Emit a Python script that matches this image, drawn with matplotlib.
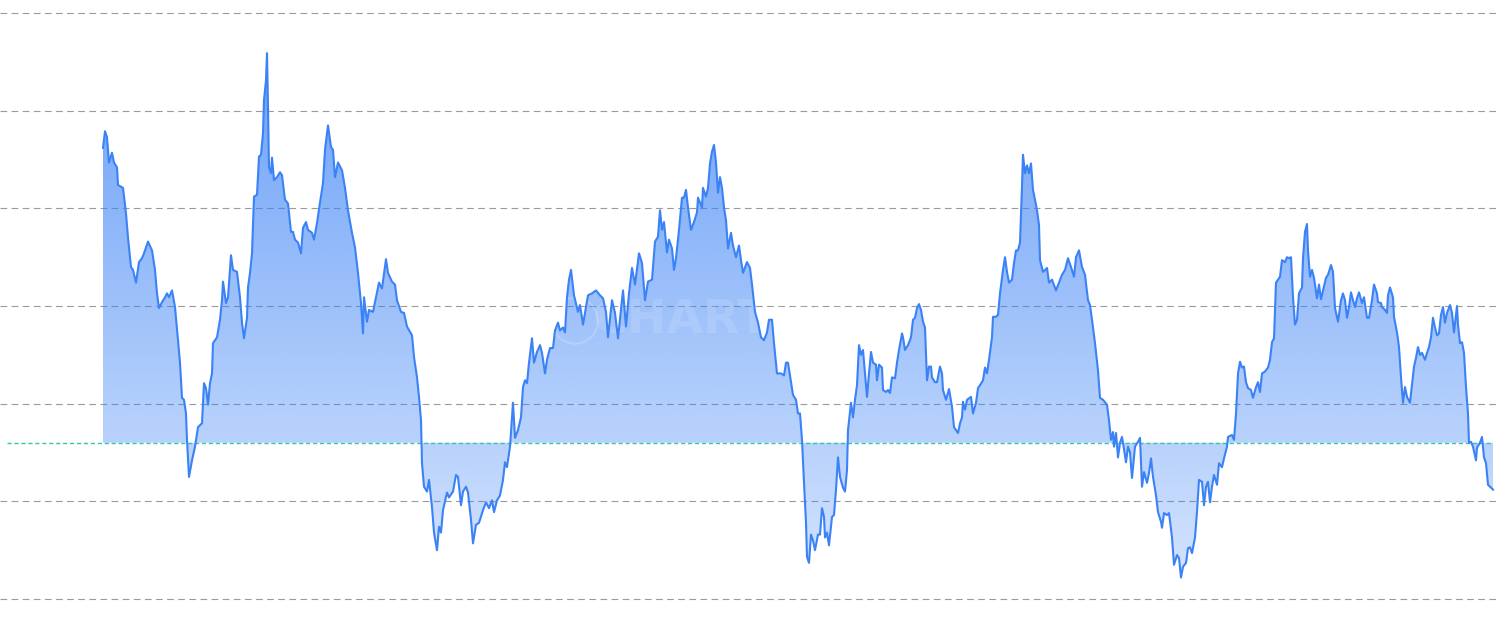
import numpy as np
import matplotlib.pyplot as plt

# --- datos (día desde el inicio, valor) ---
days = [0, 2, 4, 6, 9, 11, 14, 15, 20, 23, 25, 28, 30, 33, 36, 39, 41, 45, 49, 52,
        54, 56, 59, 62, 64, 66, 69, 72, 75, 77, 79, 81, 83, 84, 86, 89, 92, 95, 99, 101,
        103, 105, 107, 109, 110, 114, 117, 119, 120, 123, 125, 128, 130, 134, 137, 139, 141, 144, 145, 147,
        149, 151, 154, 156, 158, 160, 161, 163, 164, 165, 166, 168, 169, 171, 174, 177, 179, 182, 185, 188,
        190, 192, 195, 198, 200, 203, 205, 209, 211, 214, 217, 220, 222, 225, 228, 230, 232, 235, 239, 242,
        245, 249, 252, 255, 258, 260, 261, 264, 266, 270, 273, 276, 279, 283, 285, 289, 292, 294, 298, 301,
        304, 309, 311, 314, 316, 318, 319, 321, 324, 326, 329, 331, 334, 336, 338, 340, 344, 346, 350, 353,
        355, 358, 360, 363, 365, 368, 370, 373, 376, 380, 383, 386, 389, 391, 394, 397, 400, 402, 404, 407,
        410, 412, 415, 418, 420, 422, 424, 426, 429, 431, 434, 437, 439, 442, 444, 447, 450, 452, 455, 457,
        460, 462, 464, 466, 468, 471, 475, 477, 480, 485, 489, 493, 497, 500, 503, 505, 509, 512, 515, 518,
        520, 523, 526, 529, 532, 536, 539, 542, 545, 549, 552, 555, 557, 559, 561, 564, 566, 569, 571, 573,
        576, 579, 581, 583, 585, 588, 591, 594, 595, 599, 600, 603, 605, 607, 609, 611, 613, 615, 617, 619,
        621, 623, 625, 628, 630, 633, 636, 638, 640, 644, 647, 649, 652, 655, 658, 661, 664, 666, 669, 671,
        674, 678, 681, 683, 685, 687, 690, 693, 695, 697, 699, 701, 703, 704, 706, 708, 710, 712, 715, 717,
        719, 721, 722, 724, 726, 729, 731, 733, 735, 737, 740, 742, 744, 745, 748, 750, 752, 754, 756, 758,
        760, 762, 764, 766, 768, 770, 773, 774, 776, 779, 780, 783, 785, 787, 789, 792, 794, 796, 799, 800,
        802, 805, 808, 810, 812, 814, 816, 818, 820, 822, 824, 826, 828, 829, 832, 834, 837, 839, 840, 843,
        846, 849, 851, 853, 855, 857, 859, 860, 862, 864, 868, 870, 873, 875, 877, 880, 882, 884, 886, 889,
        890, 893, 895, 897, 900, 902, 904, 906, 909, 911, 913, 915, 917, 919, 920, 922, 924, 926, 928, 930,
        932, 934, 936, 937, 940, 944, 946, 949, 953, 956, 959, 962, 965, 968, 971, 973, 976, 979, 982, 985,
        987, 989, 992, 995, 997, 1000, 1004, 1006, 1008, 1010, 1011, 1013, 1015, 1017, 1019, 1020, 1023, 1025, 1027, 1029,
        1032, 1035, 1037, 1039, 1041, 1044, 1046, 1048, 1050, 1053, 1055, 1058, 1059, 1061, 1064, 1066, 1069, 1071, 1074, 1076,
        1078, 1080, 1083, 1085, 1087, 1089, 1092, 1094, 1096, 1099, 1101, 1103, 1105, 1107, 1109, 1111, 1114, 1116, 1119, 1121,
        1124, 1125, 1129, 1131, 1133, 1135, 1137, 1139, 1141, 1143, 1145, 1148, 1150, 1153, 1155, 1157, 1159, 1162, 1165, 1167,
        1169, 1171, 1173, 1175, 1177, 1179, 1182, 1184, 1186, 1188, 1190, 1192, 1194, 1196, 1199, 1200, 1202, 1204, 1205, 1207,
        1209, 1211, 1214, 1216, 1218, 1220, 1223, 1225, 1228, 1230, 1232, 1235, 1238, 1240, 1242, 1244, 1246, 1248, 1250, 1252,
        1254, 1256, 1259, 1261, 1264, 1266, 1269, 1271, 1274, 1275, 1278, 1279, 1282, 1284, 1285, 1287, 1290, 1291, 1294, 1296,
        1298, 1300, 1302, 1304, 1307, 1309, 1311, 1313, 1315, 1317, 1319, 1322, 1324, 1326, 1328, 1330, 1332, 1334, 1336, 1338,
        1340, 1342, 1344, 1347, 1349, 1351, 1354, 1355, 1357, 1359, 1361, 1363, 1365, 1366, 1368, 1370, 1373, 1374, 1377, 1379,
        1381, 1383, 1385, 1388, 1390]

values = [462, 479, 473, 447, 457, 447, 442, 424, 421, 395, 370, 340, 337, 324, 345, 349, 354, 366, 357, 337,
          313, 298, 304, 309, 313, 309, 316, 299, 265, 242, 206, 204, 190, 163, 125, 142, 156, 176, 180, 221,
          216, 199, 221, 231, 262, 268, 286, 306, 325, 303, 309, 352, 337, 335, 309, 283, 267, 288, 319, 334,
          354, 412, 414, 453, 455, 477, 511, 531, 559, 504, 442, 436, 452, 429, 432, 437, 434, 409, 405, 376,
          376, 368, 365, 354, 380, 386, 378, 375, 368, 385, 406, 426, 460, 485, 463, 460, 432, 447, 439, 421,
          398, 375, 360, 334, 303, 272, 309, 284, 296, 294, 309, 324, 318, 348, 334, 325, 322, 306, 294, 293,
          279, 270, 248, 227, 207, 183, 139, 115, 110, 122, 94, 68, 50, 74, 68, 91, 109, 104, 110, 127,
          125, 96, 110, 115, 109, 81, 57, 76, 78, 91, 99, 93, 101, 89, 101, 106, 122, 140, 135, 156,
          201, 165, 173, 186, 217, 224, 221, 242, 267, 242, 253, 260, 252, 231, 245, 257, 257, 275, 283, 275,
          278, 273, 309, 327, 337, 311, 294, 301, 281, 311, 313, 316, 311, 308, 294, 268, 306, 293, 267, 296,
          316, 279, 313, 339, 322, 354, 344, 306, 325, 327, 366, 371, 398, 378, 386, 355, 368, 359, 337, 349,
          378, 411, 411, 419, 401, 378, 386, 396, 411, 401, 421, 412, 421, 446, 458, 465, 447, 416, 432, 421,
          401, 388, 359, 375, 362, 350, 362, 347, 334, 345, 339, 322, 294, 283, 268, 265, 273, 286, 286, 262,
          231, 231, 229, 242, 242, 229, 209, 204, 190, 190, 163, 119, 78, 43, 37, 66, 60, 50, 66, 66,
          93, 84, 63, 68, 55, 84, 86, 112, 145, 125, 114, 110, 132, 173, 201, 186, 204, 219, 260, 250,
          255, 231, 207, 231, 253, 242, 240, 224, 240, 237, 214, 212, 214, 211, 227, 226, 242, 255, 272, 268,
          255, 260, 268, 286, 288, 298, 302, 296, 284, 278, 224, 238, 238, 227, 222, 222, 238, 231, 214, 204,
          215, 197, 176, 173, 170, 180, 186, 202, 194, 204, 207, 190, 201, 216, 219, 224, 237, 231, 245, 268,
          289, 289, 291, 313, 337, 350, 335, 324, 327, 344, 357, 357, 365, 422, 455, 436, 444, 436, 446, 419,
          409, 398, 383, 347, 335, 339, 324, 327, 316, 324, 332, 337, 349, 340, 330, 350, 357, 340, 332, 306,
          301, 286, 262, 234, 206, 204, 199, 183, 163, 171, 156, 170, 145, 160, 166, 160, 140, 156, 150, 124,
          156, 161, 165, 115, 130, 119, 129, 144, 125, 106, 89, 79, 73, 88, 86, 88, 63, 35, 45, 42,
          22, 33, 37, 52, 53, 47, 63, 89, 122, 120, 96, 115, 120, 99, 115, 127, 117, 139, 135, 144,
          156, 166, 168, 163, 190, 231, 243, 237, 238, 222, 216, 214, 206, 217, 222, 212, 231, 233, 237, 245,
          263, 267, 324, 327, 330, 347, 345, 350, 349, 350, 309, 281, 286, 313, 319, 349, 376, 384, 357, 330,
          337, 329, 308, 322, 307, 316, 329, 332, 342, 335, 298, 284, 306, 313, 306, 288, 299, 314, 306, 299,
          308, 314, 303, 309, 288, 288, 306, 322, 313, 304, 303, 299, 296, 293, 311, 319, 309, 289, 273, 258,
          227, 201, 217, 207, 201, 219, 238, 247, 258, 250, 252, 245, 252, 258, 268, 288, 278, 270, 272, 291,
          299, 283, 293, 301, 293, 273, 300, 281, 262, 263, 252, 217, 190, 160, 161, 156, 142, 155, 160, 166,
          145, 139, 117, 114, 112]

baseline = 160                      # valor de referencia (línea punteada)
grid_levels = [0, 100, 200, 300, 400, 500, 600]

x = np.array(days)
y = np.array(values)

fig = plt.figure(figsize=(15, 6.33), dpi=100)
ax = fig.add_axes([0, 0, 1, 1])
ax.set_xlim(-103, 1397)
ax.set_ylim(-34.8, 613.4)
for s in ax.spines.values():
    s.set_visible(False)
ax.set_xticks([])
ax.set_yticks(grid_levels)
ax.tick_params(axis='y', length=0, labelleft=False)
ax.yaxis.grid(True, linestyle=(0, (6, 4)), color='#9a9a9a', linewidth=0.8)
ax.set_axisbelow(True)

# relleno con degradado vertical, recortado al área entre la serie y la base
poly = ax.fill_between(x, y, baseline, facecolor='none', edgecolor='none')
clip = poly.get_paths()[0]
rows = np.linspace(0, 1, 300)[:, None]
alpha = 0.80 - 0.63 * rows
grad = np.zeros((300, 1, 4))
grad[..., 0] = 59 / 255
grad[..., 1] = 130 / 255
grad[..., 2] = 246 / 255
grad[..., 3] = alpha
im = ax.imshow(grad, extent=(-103, 1397, -34.8, 613.4), aspect='auto',
               origin='upper', zorder=2)
im.set_clip_path(clip, transform=ax.transData)

# marca de agua tenue (logo + texto)
ax.scatter([472], [285], s=1100, facecolors='none', edgecolors='white',
           linewidths=1.5, alpha=0.18, zorder=3)
ax.text(490, 285, 'CHARTING', ha='left', va='center', fontsize=34,
        fontweight='bold', color='white', alpha=0.12, zorder=3)

ax.hlines(baseline, -96, 1390, colors='#34c9a5', linestyles=(0, (3, 2)),
          linewidth=1.0, zorder=3)
ax.plot(x, y, color='#3b82f6', linewidth=1.5, zorder=4)

fig.savefig('out.png', dpi=100, facecolor='white')
